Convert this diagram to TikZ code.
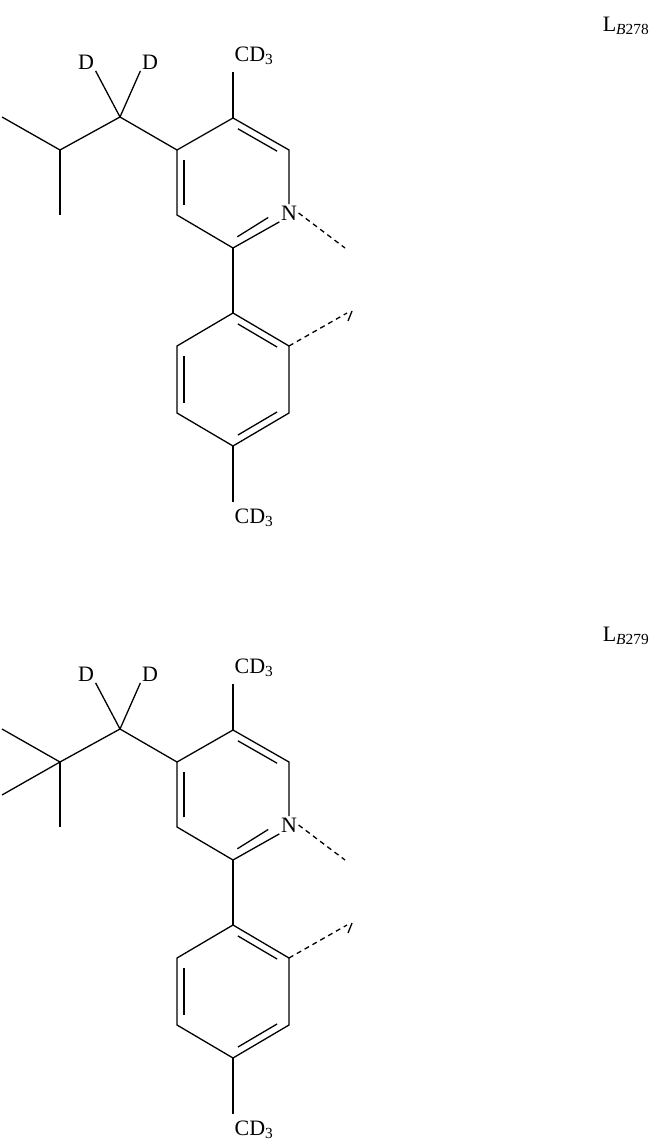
\documentclass[tikz,border=0pt]{standalone}
\usepackage{fontspec}
\setmainfont{Liberation Serif}
\usetikzlibrary{calc}
\begin{document}
\begin{tikzpicture}[x=1pt,y=-1pt,line width=1.3pt,
  lab/.style={inner sep=1pt,font=\fontsize{22}{24}\selectfont},
  dsh/.style={dash pattern=on 5pt off 4pt}]
\useasboundingbox (0,0) rectangle (663,1147);
\newcommand\ib[4]{\draw ($(#1)!#4!(#2)+#3$)--($(#2)!0.15!(#1)+#3$);}
\newcommand\mol[2]{%
\begin{scope}[yshift=-#1pt]
\coordinate (a) at (233,118); \coordinate (b) at (289,150);
\node[lab] (n) at (289,213) {N};
\coordinate (nn) at (289,213);
\coordinate (c) at (233,248); \coordinate (d) at (177,215); \coordinate (e) at (177,150);
\node[lab] (me1) at (254,56) {CD\textsubscript{3}};
\draw (a)--(b)--(n.north);
\draw (n.south west)--(c)--(d)--(e)--(a);
\ib{a}{b}{(-3.5,6)}{0.15}
\ib{nn}{c}{(-4,-6)}{0.3}
\ib{d}{e}{(7,0)}{0.15}
\draw (a)--(233,72);
\draw[dsh] (n.east)--(345,248);
\coordinate (ch) at (120,117);
\node[lab] (d1) at (86,62) {D}; \node[lab] (d2) at (150,62) {D};
\draw (e)--(ch)--(d1.south east); \draw (ch)--(d2.south west);
\coordinate (p1) at (233,313); \coordinate (p2) at (289,346); \coordinate (p3) at (289,413);
\coordinate (p4) at (233,446); \coordinate (p5) at (177,413); \coordinate (p6) at (177,346);
\draw (c)--(p1);
\draw (p1)--(p2)--(p3)--(p4)--(p5)--(p6)--cycle;
\ib{p1}{p2}{(-3.5,6)}{0.15}
\ib{p3}{p4}{(-3.5,-6)}{0.15}
\ib{p5}{p6}{(7,0)}{0.15}
\draw[dsh] (p2)--(347,313);
\draw (352,311)--(348,321);
\node[lab] (me2) at (254,518) {CD\textsubscript{3}};
\draw (p4)--(233,502);
#2
\end{scope}}
\mol{0}{\coordinate (q) at (60,150); \draw (ch)--(q)--(2,117); \draw (q)--(60,215);}
\mol{612}{\coordinate (q) at (60,150); \draw (ch)--(q)--(2,117); \draw (q)--(2,183); \draw (q)--(60,215);}
\node[lab] (l1) at (626,26) {L\textsubscript{\textit{B}278}};
\node[lab] (l2) at (626,636) {L\textsubscript{\textit{B}279}};
\end{tikzpicture}
\end{document}
